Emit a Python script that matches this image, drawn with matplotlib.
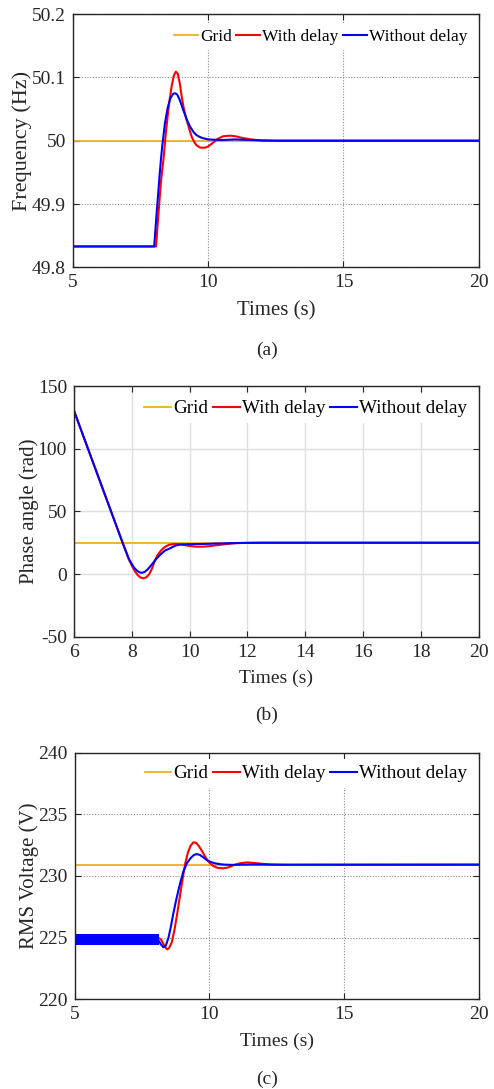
import numpy as np
import matplotlib
matplotlib.use('Agg')
import matplotlib.pyplot as plt

# 字体与颜色
plt.rcParams['font.family'] = ['Liberation Serif', 'DejaVu Serif']
plt.rcParams['mathtext.fontset'] = 'stix'
c_grid = '#EDB120'
c_delay = '#FF0000'
c_nodelay = '#0000FF'
c_axis = '#262626'

# (a) 频率
f_grid_t = [5, 20]
f_grid = [50.0, 50.0]
f_delay_t = [5, 8.07, 8.15, 8.25, 8.34, 8.45, 8.55, 8.65, 8.73, 8.8, 8.87, 8.95, 9.02, 9.1,
             9.2, 9.3, 9.39, 9.48, 9.56, 9.7, 9.88, 10.0, 10.18, 10.35, 10.55, 10.8, 11.0,
             11.3, 11.6, 12.0, 20]
f_delay = [49.833, 49.833, 49.88, 49.935, 49.969, 50.02, 50.058, 50.087, 50.103, 50.109,
           50.106, 50.09, 50.069, 50.05, 50.033, 50.018, 50.006, 49.998, 49.993, 49.989,
           49.989, 49.991, 49.997, 50.003, 50.007, 50.008, 50.007, 50.004, 50.002, 50.0, 50.0]
f_nodelay_t = [5, 8.0, 8.1, 8.2, 8.25, 8.3, 8.4, 8.5, 8.6, 8.7, 8.77, 8.85, 8.95, 9.08, 9.2,
               9.33, 9.45, 9.56, 9.68, 9.8, 10.0, 10.5, 11.0, 11.6, 12.5, 20]
f_nodelay = [49.833, 49.833, 49.89, 49.945, 49.97, 49.992, 50.028, 50.052, 50.067, 50.074,
             50.075, 50.073, 50.064, 50.048, 50.034, 50.022, 50.014, 50.009, 50.006, 50.004,
             50.002, 50.001, 50.002, 50.001, 50.0, 50.0]

# (b) 相角
p_grid_t = [6, 20]
p_grid = [25, 25]
p_delay_t = [6, 7.71, 7.9, 8.0, 8.1, 8.2, 8.3, 8.4, 8.5, 8.6, 8.7, 8.8, 8.9, 9.0, 9.1, 9.2,
             9.3, 9.45, 9.6, 9.8, 10.0, 10.24, 10.5, 10.7, 10.93, 11.2, 11.62, 12.0, 12.8, 20]
p_delay = [130.3, 23.2, 11.5, 6.8, 2.5, -0.8, -2.8, -3.4, -2.6, -0.2, 4.5, 11.0, 15.5, 18.5,
           20.8, 22.4, 23.4, 24.0, 23.9, 23.2, 22.4, 21.8, 21.9, 22.3, 23.0, 23.8, 24.7, 24.9,
           25.0, 25.0]
p_nodelay_t = [6, 7.71, 7.9, 8.0, 8.1, 8.2, 8.3, 8.35, 8.45, 8.55, 8.65, 8.75, 8.86, 9.0,
               9.15, 9.32, 9.5, 9.67, 9.9, 10.2, 10.6, 11.0, 11.5, 12.0, 12.5, 20]
p_nodelay = [130.3, 23.2, 12.0, 8.0, 4.5, 2.3, 1.1, 1.0, 1.8, 3.8, 6.5, 9.3, 12.5, 15.8, 18.8,
             20.5, 22.6, 23.6, 23.8, 23.9, 24.1, 24.4, 24.7, 24.9, 25.0, 25.0]

# (c) 电压有效值
v_grid_t = [5, 20]
v_grid = [230.92, 230.92]
v_delay_t = [5, 8.1, 8.2, 8.3, 8.38, 8.44, 8.5, 8.6, 8.7, 8.8, 8.9, 9.0, 9.1, 9.2, 9.3, 9.4,
             9.5, 9.6, 9.7, 9.77, 9.9, 10.02, 10.15, 10.3, 10.52, 10.7, 10.9, 11.13, 11.38,
             11.6, 11.9, 12.3, 12.8, 20]
v_delay = [225.0, 225.0, 224.85, 224.45, 224.15, 224.05, 224.15, 224.6, 225.6, 226.9, 228.3,
           229.7, 231.0, 231.9, 232.45, 232.73, 232.7, 232.45, 232.1, 231.84, 231.35, 231.03,
           230.8, 230.66, 230.62, 230.7, 230.88, 231.03, 231.1, 231.07, 231.0, 230.93, 230.9,
           230.92]
v_nodelay_t = [8.13, 8.2, 8.29, 8.38, 8.48, 8.57, 8.66, 8.78, 8.91, 9.03, 9.16, 9.3, 9.42,
               9.53, 9.65, 9.78, 9.9, 10.02, 10.2, 10.35, 10.51, 10.8, 11.2, 11.6, 12.5, 20]
v_nodelay = [224.7, 224.45, 224.22, 224.35, 225.0, 225.9, 226.97, 228.2, 229.4, 230.35, 231.03,
             231.45, 231.7, 231.78, 231.7, 231.5, 231.3, 231.16, 231.03, 230.97, 230.93, 230.9,
             230.92, 230.93, 230.92, 230.92]
# 8 s 前的高频纹波包络
v_ripple_t = [5, 8.13]
v_ripple_lo = [224.4, 224.4]
v_ripple_hi = [225.27, 225.27]

legend_names = ['Grid', 'With delay', 'Without delay']


def style_axis(ax, xticks, yticks, ylabels, dotted):
    ax.set_xticks(xticks)
    ax.set_xticklabels([str(v) for v in xticks])
    ax.set_yticks(yticks)
    ax.set_yticklabels(ylabels)
    ax.tick_params(direction='in', top=True, right=True, length=4.5, width=0.8,
                   labelsize=14, colors=c_axis, pad=5)
    for s in ax.spines.values():
        s.set_color(c_axis)
        s.set_linewidth(1.0)
    if dotted:
        ax.grid(True, color='#8c8c8c', linestyle=(0, (1, 1.5)), linewidth=0.8)
    else:
        ax.grid(True, color='#dedede', linestyle='-', linewidth=1.0)
    ax.set_axisbelow(True)


def add_legend(ax, size, y):
    leg = ax.legend(legend_names, loc='center right', bbox_to_anchor=(0.985, y),
                    ncol=3, fontsize=size, frameon=True, fancybox=False,
                    handlelength=1.4, handletextpad=0.1, columnspacing=0.25,
                    borderpad=0.3, borderaxespad=0)
    leg.get_frame().set_facecolor('white')
    leg.get_frame().set_edgecolor('none')
    leg.get_frame().set_alpha(1)


fig = plt.figure(figsize=(4.94, 10.89), dpi=100)

# (a)
ax1 = fig.add_axes([0.1478, 0.7545, 0.8213, 0.2326])
ax1.plot(f_grid_t, f_grid, color=c_grid, lw=1.3)
ax1.plot(f_delay_t, f_delay, color=c_delay, lw=1.5)
ax1.plot(f_nodelay_t, f_nodelay, color=c_nodelay, lw=1.5)
ax1.set_xlim(5, 20)
ax1.set_ylim(49.8, 50.2)
style_axis(ax1, [5, 10, 15, 20], [49.8, 49.9, 50.0, 50.1, 50.2],
           ['49.8', '49.9', '50', '50.1', '50.2'], True)
ax1.set_xlabel('Times (s)', fontsize=15, color=c_axis, va='center')
ax1.xaxis.set_label_coords(0.5, -0.1725)
ax1.set_ylabel('Frequency (Hz)', fontsize=16, color=c_axis, va='center')
ax1.yaxis.set_label_coords(-0.1245, 0.5)
add_legend(ax1, 12.5, 0.91)
fig.text(0.54, 1 - 350 / 1089, '(a)', fontsize=14, ha='center', va='center', color=c_axis)

# (b)
ax2 = fig.add_axes([0.1498, 0.4153, 0.8192, 0.2302])
ax2.plot(p_grid_t, p_grid, color=c_grid, lw=1.3)
ax2.plot(p_delay_t, p_delay, color=c_delay, lw=1.5)
ax2.plot(p_nodelay_t, p_nodelay, color=c_nodelay, lw=1.5)
ax2.set_xlim(6, 20)
ax2.set_ylim(-50, 150)
style_axis(ax2, list(range(6, 21, 2)), [-50, 0, 50, 100, 150],
           ['-50', '0', '50', '100', '150'], False)
ax2.set_xlabel('Times (s)', fontsize=14, color=c_axis, va='center')
ax2.xaxis.set_label_coords(0.5, -0.1655)
ax2.set_ylabel('Phase angle (rad)', fontsize=15, color=c_axis, va='center')
ax2.yaxis.set_label_coords(-0.111, 0.5)
add_legend(ax2, 13.8, 0.91)
fig.text(0.54, 1 - 715 / 1089, '(b)', fontsize=14, ha='center', va='center', color=c_axis)

# (c)
ax3 = fig.add_axes([0.1512, 0.0824, 0.8184, 0.2264])
ax3.plot(v_grid_t, v_grid, color=c_grid, lw=1.3)
ax3.plot(v_delay_t, v_delay, color=c_delay, lw=1.5)
ax3.plot(v_nodelay_t, v_nodelay, color=c_nodelay, lw=1.5)
ax3.fill_between(v_ripple_t, v_ripple_lo, v_ripple_hi, color=c_nodelay, lw=0, zorder=2.5)
ax3.set_xlim(5, 20)
ax3.set_ylim(220, 240)
style_axis(ax3, [5, 10, 15, 20], [220, 225, 230, 235, 240],
           ['220', '225', '230', '235', '240'], True)
ax3.set_xlabel('Times (s)', fontsize=14, color=c_axis, va='center')
ax3.xaxis.set_label_coords(0.5, -0.17)
ax3.set_ylabel('RMS Voltage (V)', fontsize=15, color=c_axis, va='center')
ax3.yaxis.set_label_coords(-0.112, 0.5)
add_legend(ax3, 13.8, 0.915)
fig.text(0.54, 1 - 1079 / 1089, '(c)', fontsize=14, ha='center', va='center', color=c_axis)

plt.savefig('out.png', dpi=100)
